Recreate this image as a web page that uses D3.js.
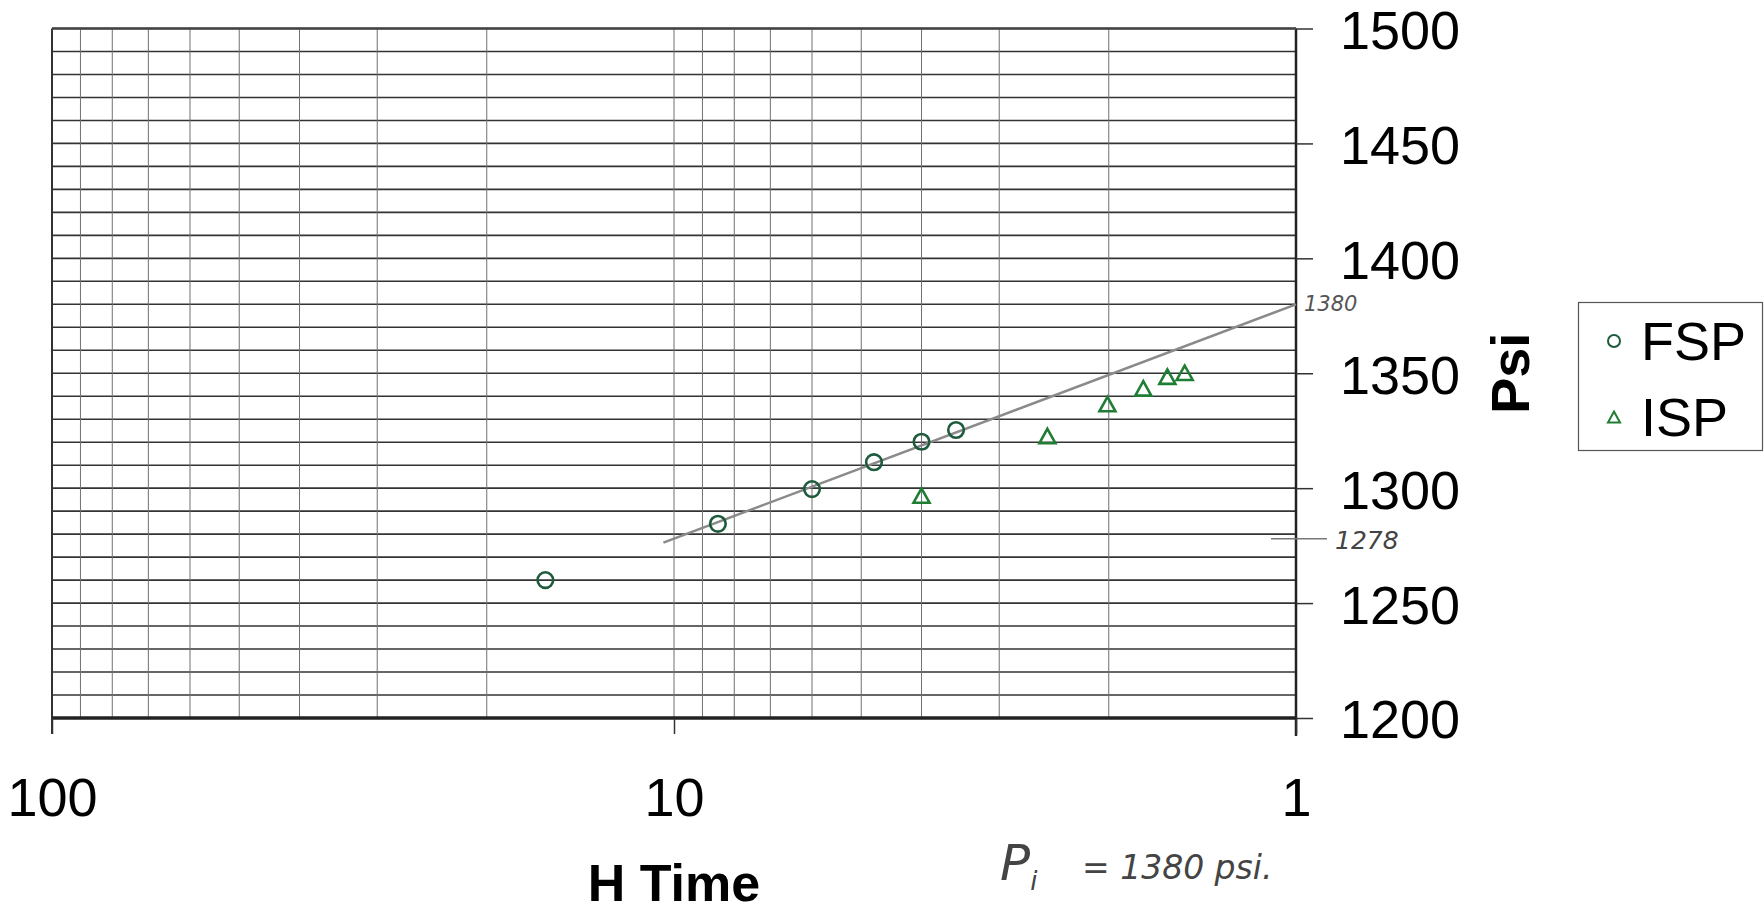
<!DOCTYPE html>
<html>
<head>
<meta charset="utf-8">
<script src="https://cdn.jsdelivr.net/npm/d3@7"></script>
<style>
  html, body { margin: 0; padding: 0; background: #fff; }
  svg { display: block; }
</style>
</head>
<body>
<svg id="chart" width="1764" height="914"></svg>
<script>
// ---- data ----
const fspTime = [16.1, 8.5, 6.0, 4.77, 4.0, 3.52];
const fspPsi  = [1260, 1284.5, 1299.6, 1311.3, 1320.2, 1325.3];
const ispTime = [4.0, 2.51, 2.01, 1.76, 1.61, 1.51];
const ispPsi  = [1296.8, 1322.7, 1336.6, 1343.4, 1348.5, 1350.2];
const lineTime = [10.4, 1];
const linePsi  = [1276.3, 1380];
const xTickValues = [100, 10, 1];
const xTickLabels = ["100", "10", "1"];
const yTickValues = [1200, 1250, 1300, 1350, 1400, 1450, 1500];
const xGridValues = [2, 3, 4, 5, 6, 7, 8, 9, 10, 20, 30, 40, 50, 60, 70, 80, 90];
const yGridValues = d3.range(1200, 1501, 10);
const seriesNames = ["FSP", "ISP"];
const xTitle = "H Time";
const yTitle = "Psi";
const noteTop = "1380";
const noteLow = "1278";
const noteLowValue = 1278;
const noteTopValue = 1380;

// ---- layout ----
const svg = d3.select("#chart");
const x = d3.scaleLog().domain([100, 1]).range([52, 1296]);
const y = d3.scaleLinear().domain([1200, 1500]).range([718, 28.5]);
const font = "'Liberation Sans', Arial, Helvetica, sans-serif";
const cCircle = "#1e5a3c";
const cTri = "#1f7d34";

// horizontal grid
svg.append("g").selectAll("line").data(yGridValues).join("line")
  .attr("x1", x(100)).attr("x2", x(1))
  .attr("y1", d => y(d)).attr("y2", d => y(d))
  .attr("stroke", "#333").attr("stroke-width", 1.6);

// vertical grid
svg.append("g").selectAll("line").data(xGridValues).join("line")
  .attr("x1", d => x(d)).attr("x2", d => x(d))
  .attr("y1", y(1500)).attr("y2", y(1200))
  .attr("stroke", "#707070").attr("stroke-width", 1);

// borders
svg.append("line").attr("x1", x(100)).attr("x2", x(100)).attr("y1", y(1500)).attr("y2", y(1200) + 16)
  .attr("stroke", "#333").attr("stroke-width", 2);
svg.append("line").attr("x1", x(1)).attr("x2", x(1)).attr("y1", y(1500)).attr("y2", y(1200) + 18)
  .attr("stroke", "#222").attr("stroke-width", 2.5);
svg.append("line").attr("x1", x(100)).attr("x2", x(1)).attr("y1", y(1500)).attr("y2", y(1500))
  .attr("stroke", "#444").attr("stroke-width", 2.5);
svg.append("line").attr("x1", x(100)).attr("x2", x(1)).attr("y1", y(1200)).attr("y2", y(1200))
  .attr("stroke", "#222").attr("stroke-width", 3.5);

// bottom axis (ticks below border + labels)
const xAxis = d3.axisBottom(x).tickValues(xTickValues)
  .tickFormat((d, i) => xTickLabels[i]).tickSize(16).tickPadding(44);
const gx = svg.append("g").attr("transform", `translate(0,${y(1200)})`).call(xAxis);
gx.select(".domain").remove();
gx.selectAll(".tick line").attr("stroke", "#333").attr("stroke-width", 1.5);
gx.selectAll(".tick text").attr("font-family", font).attr("font-size", 54).attr("fill", "#000");

// right axis
const yAxis = d3.axisRight(y).tickValues(yTickValues).tickSize(17).tickPadding(27).tickFormat(d3.format("d"));
const gy = svg.append("g").attr("transform", `translate(${x(1)},0)`).call(yAxis);
gy.select(".domain").remove();
gy.selectAll(".tick line").attr("stroke", "#333").attr("stroke-width", 1.5);
gy.selectAll(".tick text").attr("font-family", font).attr("font-size", 54).attr("fill", "#000")
  .attr("dy", "0.37em");

// fitted line
svg.append("path")
  .datum(lineTime.map((t, i) => [t, linePsi[i]]))
  .attr("d", d3.line().x(d => x(d[0])).y(d => y(d[1])))
  .attr("fill", "none").attr("stroke", "#8a8a8a").attr("stroke-width", 2.5);

// markers
const tri = (s) => { const h = s * 0.9; return `M0,${-h/2}L${s/2},${h/2}L${-s/2},${h/2}Z`; };
svg.append("g").selectAll("circle").data(fspTime.map((t, i) => [t, fspPsi[i]])).join("circle")
  .attr("cx", d => x(d[0])).attr("cy", d => y(d[1])).attr("r", 7.8)
  .attr("fill", "none").attr("stroke", cCircle).attr("stroke-width", 2.6);
svg.append("g").selectAll("path").data(ispTime.map((t, i) => [t, ispPsi[i]])).join("path")
  .attr("transform", d => `translate(${x(d[0])},${y(d[1])})`)
  .attr("d", tri(16))
  .attr("fill", "none").attr("stroke", cTri).attr("stroke-width", 2.6).attr("stroke-linejoin", "miter");

// axis titles
svg.append("text").attr("x", (x(100) + x(1)) / 2).attr("y", 901)
  .attr("text-anchor", "middle").attr("font-family", font).attr("font-weight", "bold")
  .attr("font-size", 52).attr("fill", "#000").text(xTitle);
svg.append("text").attr("transform", `translate(1529,${(y(1500) + y(1200)) / 2}) rotate(-90)`)
  .attr("text-anchor", "middle").attr("font-family", font).attr("font-weight", "bold")
  .attr("font-size", 54).attr("fill", "#000").text(yTitle);

// legend
const lg = svg.append("g");
lg.append("rect").attr("x", 1578.5).attr("y", 302.5).attr("width", 184).attr("height", 148)
  .attr("fill", "#fff").attr("stroke", "#555").attr("stroke-width", 1.2);
const legY = [341, 417];
lg.append("circle").attr("cx", 1614).attr("cy", legY[0]).attr("r", 6)
  .attr("fill", "none").attr("stroke", cCircle).attr("stroke-width", 2);
lg.append("path").attr("transform", `translate(1614,${legY[1]})`).attr("d", tri(12))
  .attr("fill", "none").attr("stroke", cTri).attr("stroke-width", 2);
lg.selectAll("text").data(seriesNames).join("text")
  .attr("x", 1641).attr("y", (d, i) => legY[i] + 19)
  .attr("font-family", font).attr("font-size", 54).attr("fill", "#000").text(d => d);

// handwritten notes
const hand = "'DejaVu Sans', sans-serif";
svg.append("text").attr("x", x(1) + 8).attr("y", y(noteTopValue) + 7)
  .attr("font-family", hand).attr("font-style", "italic").attr("font-size", 21)
  .attr("fill", "#555").text(noteTop);
svg.append("line").attr("x1", 1271).attr("x2", 1327).attr("y1", y(noteLowValue)).attr("y2", y(noteLowValue))
  .attr("stroke", "#777").attr("stroke-width", 1.5);
svg.append("text").attr("x", 1335).attr("y", y(noteLowValue) + 10)
  .attr("font-family", hand).attr("font-style", "italic").attr("font-size", 25)
  .attr("fill", "#444").text(noteLow);
const pi = svg.append("text").attr("x", 1000).attr("y", 880)
  .attr("font-family", hand).attr("font-style", "italic").attr("fill", "#444");
pi.append("tspan").attr("font-size", 50).text("P");
pi.append("tspan").attr("font-size", 26).attr("dy", 10).text("i");
svg.append("text").attr("x", 1082).attr("y", 879)
  .attr("font-family", hand).attr("font-style", "italic").attr("font-size", 33)
  .attr("fill", "#444").text("= 1380 psi.");
</script>
</body>
</html>
